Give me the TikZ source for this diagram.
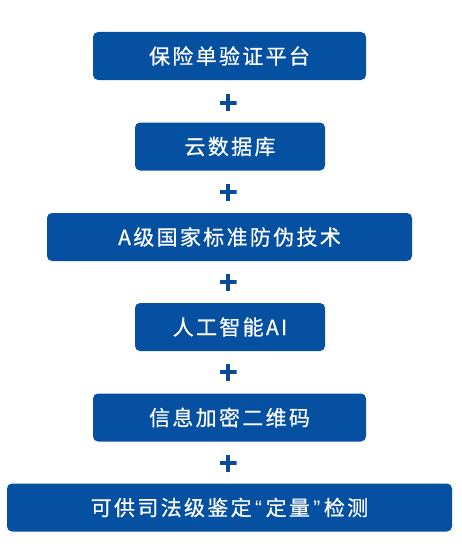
\documentclass[tikz,border=0pt]{standalone}
\usepackage{fontspec}
\setmainfont{Noto Sans CJK SC}
\newfontfamily\quotefont{Liberation Sans}
\newcommand{\myopenq}{\makebox[14pt]{\quotefont “}}
\newcommand{\mycloseq}{\makebox[14pt]{\quotefont ”}}
\definecolor{boxblue}{HTML}{0650A2}
\definecolor{plusblue}{HTML}{0B4C98}
\begin{document}
\begin{tikzpicture}[x=1pt,y=-1pt,
  stepbox/.style={fill=boxblue, rounded corners=5pt, text=white, inner sep=0pt,
    minimum height=48pt, font=\fontsize{21}{21}\selectfont\addfontfeature{LetterSpace=11,FakeBold=0.5}},
  plusmark/.style={minimum size=17pt, inner sep=0pt,
    path picture={\draw[plusblue, line width=4pt]
      (path picture bounding box.north) -- (path picture bounding box.south)
      (path picture bounding box.west) -- (path picture bounding box.east);}}]
\useasboundingbox (0,0) rectangle (462,551);
\node[stepbox, minimum width=273pt] (b1) at (229.5,56) {保险单验证平台};
\node[stepbox, minimum width=190pt] (b2) at (230,146.5) {云数据库};
\node[stepbox, minimum width=365pt] (b3) at (229.5,237) {A级国家标准防伪技术};
\node[stepbox, minimum width=190pt] (b4) at (230,327) {人工智能AI};
\node[stepbox, minimum width=273pt] (b5) at (229.5,417.5) {信息加密二维码};
\node[stepbox, minimum width=445pt] (b6) at (229.5,507.5) {可供司法级鉴定\myopenq 定量\mycloseq 检测};
\node[plusmark] (p1) at (228,102.5) {};
\node[plusmark] (p2) at (228,192) {};
\node[plusmark] (p3) at (228,282) {};
\node[plusmark] (p4) at (228,372) {};
\node[plusmark] (p5) at (228,463) {};
\end{tikzpicture}
\end{document}
